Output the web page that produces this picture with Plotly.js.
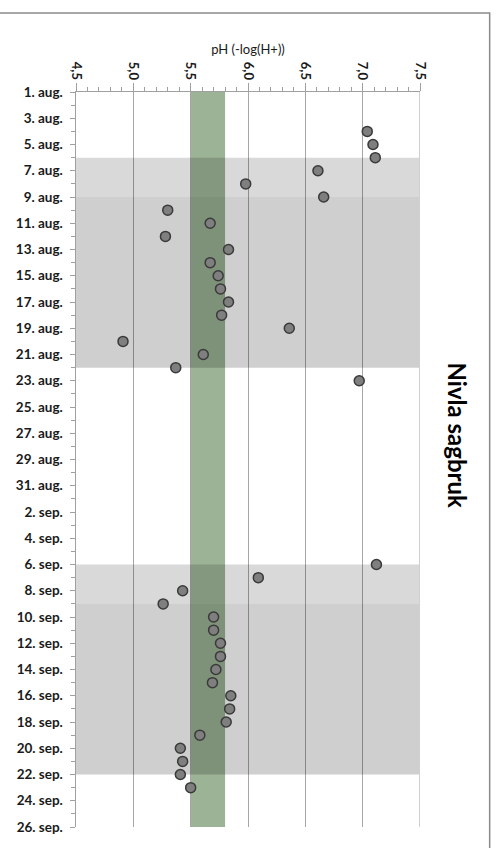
<!DOCTYPE html>
<html>
<head>
<meta charset="utf-8">
<script src="https://cdn.plot.ly/plotly-3.0.1.min.js"></script>
<style>html,body{margin:0;padding:0;background:#fff;}#chart{width:496px;height:848px;}</style>
</head>
<body>
<div id="chart"></div>
<script>
// Measurement dates and pH values
var dates = ['2014-08-04','2014-08-05','2014-08-06','2014-08-07','2014-08-08','2014-08-09','2014-08-10','2014-08-11','2014-08-12','2014-08-13','2014-08-14','2014-08-15','2014-08-16','2014-08-17','2014-08-18','2014-08-19','2014-08-20','2014-08-21','2014-08-22','2014-08-23','2014-09-06','2014-09-07','2014-09-08','2014-09-09','2014-09-10','2014-09-11','2014-09-12','2014-09-13','2014-09-14','2014-09-15','2014-09-16','2014-09-17','2014-09-18','2014-09-19','2014-09-20','2014-09-21','2014-09-22','2014-09-23'];
var ph = [7.04,7.09,7.11,6.61,5.98,6.66,5.30,5.67,5.28,5.83,5.67,5.74,5.76,5.83,5.77,6.36,4.91,5.61,5.37,6.97,7.12,6.09,5.43,5.26,5.70,5.70,5.76,5.76,5.72,5.69,5.85,5.84,5.81,5.58,5.41,5.43,5.41,5.50];

// Axis ticks
var dateTicks = ['2014-08-01','2014-08-03','2014-08-05','2014-08-07','2014-08-09','2014-08-11','2014-08-13','2014-08-15','2014-08-17','2014-08-19','2014-08-21','2014-08-23','2014-08-25','2014-08-27','2014-08-29','2014-08-31','2014-09-02','2014-09-04','2014-09-06','2014-09-08','2014-09-10','2014-09-12','2014-09-14','2014-09-16','2014-09-18','2014-09-20','2014-09-22','2014-09-24','2014-09-26'];
var dateLabels = ['1. aug.','3. aug.','5. aug.','7. aug.','9. aug.','11. aug.','13. aug.','15. aug.','17. aug.','19. aug.','21. aug.','23. aug.','25. aug.','27. aug.','29. aug.','31. aug.','2. sep.','4. sep.','6. sep.','8. sep.','10. sep.','12. sep.','14. sep.','16. sep.','18. sep.','20. sep.','22. sep.','24. sep.','26. sep.'];
var phTicks = [4.5,5.0,5.5,6.0,6.5,7.0,7.5];
var phLabels = ['4,5','5,0','5,5','6,0','6,5','7,0','7,5'];

// Shaded periods and target range
var lightStarts = ['2014-08-06','2014-09-06'];
var lightEnds   = ['2014-08-09','2014-09-09'];
var darkStarts  = ['2014-08-09','2014-09-09'];
var darkEnds    = ['2014-08-22','2014-09-22'];
var targetRange = [5.5, 5.8];
var dateRange = ['2014-08-01','2014-09-26'];

var shapes = [];
shapes.push({type:'rect', layer:'below', xref:'x', yref:'y', x0:targetRange[0], x1:targetRange[1], y0:dateRange[0], y1:dateRange[1], fillcolor:'#9cb396', line:{width:0}});
for (var i=0;i<lightStarts.length;i++){
  shapes.push({type:'rect', layer:'between', xref:'x', yref:'y', x0:phTicks[0], x1:phTicks[phTicks.length-1], y0:lightStarts[i], y1:lightEnds[i], fillcolor:'rgba(0,0,0,0.15)', line:{width:0}});
}
for (var j=0;j<darkStarts.length;j++){
  shapes.push({type:'rect', layer:'between', xref:'x', yref:'y', x0:phTicks[0], x1:phTicks[phTicks.length-1], y0:darkStarts[j], y1:darkEnds[j], fillcolor:'rgba(0,0,0,0.19)', line:{width:0}});
}
// right edge line (lighter)
shapes.push({type:'line', layer:'above', xref:'x', yref:'paper', x0:phTicks[phTicks.length-1], x1:phTicks[phTicks.length-1], y0:0, y1:1, line:{color:'#d0d0d0', width:2}});
// chart frame
shapes.push({type:'rect', layer:'above', xref:'paper', yref:'paper', x0:-0.25, x1:1.2025, y0:-0.1, y1:1.1075, line:{color:'#8a8a8a', width:1.5}, fillcolor:'rgba(0,0,0,0)'});

var trace = {
  type:'scatter', mode:'markers', x:ph, y:dates,
  marker:{size:10, color:'#7f7f7f', line:{color:'#3a3a3a', width:1.5}},
  hoverinfo:'x+y', cliponaxis:false
};

var layout = {
  width:496, height:848,
  margin:{l:76, r:76, t:92, b:21},
  separators:',.',
  paper_bgcolor:'#ffffff', plot_bgcolor:'#ffffff',
  showlegend:false,
  font:{family:'Lato, "Open Sans", sans-serif', color:'#1a1a1a'},
  xaxis:{
    side:'top', range:[4.5,7.5], tickmode:'array', tickvals:phTicks, ticktext:phLabels,
    tickangle:90, tickfont:{size:13, family:'Lato, sans-serif', color:'#1a1a1a', weight:'bold'},
    ticks:'outside', ticklen:8, tickcolor:'#a0a0a0', tickwidth:1, ticklabelstandoff:-2,
    showgrid:true, gridcolor:'#a6a6a6', gridwidth:1,
    showline:true, linecolor:'#a0a0a0', linewidth:1.5,
    zeroline:false, fixedrange:true,
    minor:{dtick:0.1, tick0:4.5, ticks:'outside', ticklen:4, tickcolor:'#a0a0a0', showgrid:false},
    title:{text:'pH (-log(H+))', font:{size:13, family:'Lato, sans-serif', color:'#1a1a1a'}, standoff:4}
  },
  yaxis:{
    type:'date', range:[dateRange[1], dateRange[0]], autorange:false,
    tickmode:'array', tickvals:dateTicks, ticktext:dateLabels,
    tickfont:{size:13.5, family:'Lato, sans-serif', color:'#1a1a1a', weight:'bold'},
    ticks:'outside', ticklen:5, tickcolor:'#a0a0a0', tickwidth:1, ticklabelstandoff:4,
    showgrid:false, showline:true, linecolor:'#a0a0a0', linewidth:1.5,
    zeroline:false, fixedrange:true,
    minor:{dtick:86400000, tick0:dateRange[0], ticks:'outside', ticklen:4, tickcolor:'#a0a0a0', showgrid:false}
  },
  shapes:shapes,
  annotations:[{
    text:'<b>Nivla sagbruk</b>', xref:'paper', yref:'paper', x:1.109, y:0.532,
    xanchor:'center', yanchor:'middle', textangle:90, showarrow:false,
    font:{size:24, family:'Lato, sans-serif', color:'#000000'}
  }]
};

Plotly.newPlot('chart',[trace],layout,{displayModeBar:false, staticPlot:true});
</script>
</body>
</html>
